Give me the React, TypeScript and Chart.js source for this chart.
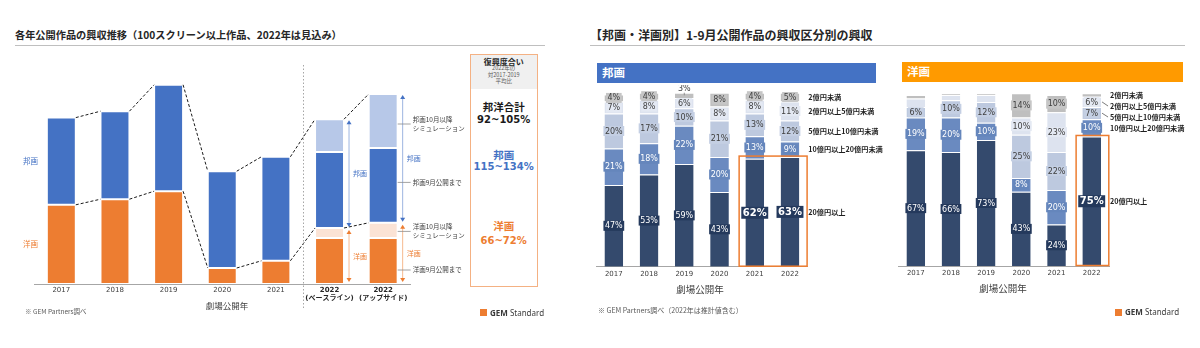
import React, { useEffect, useRef } from 'react';
import { Chart, registerables } from 'chart.js';
Chart.register(...registerables);

const JP = '"Noto Sans CJK JP", "Noto Sans", sans-serif';
const NUM = '"DejaVu Sans", "Noto Sans CJK JP", sans-serif';
const BLUE = '#4472C4';
const ORANGE = '#ED7D31';

// ---- Left chart: box office trend (億円, estimated) ----
const trendYears: (string | string[])[] = ['2017', '2018', '2019', '2020', '2021', ['2022', '(ベースライン)'], ['2022', '(アップサイド)']];
const yogaThroughSep = [990, 1060, 1160, 200, 290, 575, 575];
const yogaFromOct = [null, null, null, null, null, 125, 190];
const hogaThroughSep = [1090, 1100, 1330, 1210, 1300, 950, 935];
const hogaFromOct = [null, null, null, null, null, 410, 675];
const trendMax = 2800;

// ---- Right charts: share by box-office band (%) ----
const bandYears = ['2017', '2018', '2019', '2020', '2021', '2022'];
const bandNames = ['20億円以上', '10億円以上20億円未満', '5億円以上10億円未満', '2億円以上5億円未満', '2億円未満'];
const hoga20 = [47, 53, 59, 43, 62, 63];
const hoga10 = [21, 18, 22, 20, 13, 9];
const hoga5 = [20, 17, 10, 21, 13, 12];
const hoga2 = [7, 8, 6, 8, 8, 11];
const hogaU2 = [4, 4, 3, 8, 4, 5];
const yoga20 = [67, 66, 73, 43, 24, 75];
const yoga10 = [19, 20, 10, 8, 20, 10];
const yoga5 = [6, 10, 12, 25, 22, 7];
const yoga2 = [5, 3, 4, 10, 23, 6];
const yogaU2 = [2, 1, 1, 14, 10, 2];

const bandColors = ['#344A6D', '#6A8AC0', '#BDC9DF', '#DDE3EF', '#BFBFBF'];
const bandLabelBg = ['#24395C', '#6586BC', '#C4CFE3', '#E4E9F3', '#C6C6C6'];
const bandLabelFg = ['#FFFFFF', '#FFFFFF', '#404040', '#404040', '#404040'];

function drawArrow(ctx: CanvasRenderingContext2D, x: number, y1: number, y2: number, lineColor: string, headColor: string) {
  ctx.setLineDash([]);
  ctx.strokeStyle = lineColor;
  ctx.lineWidth = 1;
  ctx.beginPath();
  ctx.moveTo(x, y1 + 3);
  ctx.lineTo(x, y2 - 3);
  ctx.stroke();
  ctx.fillStyle = headColor;
  ctx.beginPath();
  ctx.moveTo(x, y1);
  ctx.lineTo(x - 2.5, y1 + 4);
  ctx.lineTo(x + 2.5, y1 + 4);
  ctx.closePath();
  ctx.fill();
  ctx.beginPath();
  ctx.moveTo(x, y2);
  ctx.lineTo(x - 2.5, y2 - 4);
  ctx.lineTo(x + 2.5, y2 - 4);
  ctx.closePath();
  ctx.fill();
}

const trendPlugin = {
  id: 'trendDecor',
  afterDatasetsDraw(chart: any) {
    const { ctx, chartArea } = chart;
    const ds = chart.data.datasets;
    const metas = ds.map((_: any, d: number) => chart.getDatasetMeta(d));
    const N = ds[0].data.length;
    const has = (d: number, i: number) => ds[d].data[i] != null;
    const el = (d: number, i: number) => metas[d].data[i];
    const yogaTop = (i: number) => el(has(1, i) ? 1 : 0, i).y;
    const allTop = (i: number) => el(has(3, i) ? 3 : 2, i).y;
    const left = (i: number) => el(0, i).x - el(0, i).width / 2;
    const right = (i: number) => el(0, i).x + el(0, i).width / 2;
    ctx.save();
    // dashed connectors
    ctx.strokeStyle = '#1A1A1A';
    ctx.lineWidth = 1;
    ctx.setLineDash([3, 2]);
    for (let i = 0; i < N - 1; i++) {
      for (const f of [yogaTop, allTop]) {
        ctx.beginPath();
        ctx.moveTo(right(i), f(i));
        ctx.lineTo(left(i + 1), f(i + 1));
        ctx.stroke();
      }
    }
    // separator
    const sx = Math.round((el(0, 4).x + el(0, 5).x) / 2) + 0.5;
    ctx.strokeStyle = '#A6A6A6';
    ctx.setLineDash([1.5, 2]);
    ctx.beginPath();
    ctx.moveTo(sx, chartArea.top + 5);
    ctx.lineTo(sx, chartArea.bottom + 24);
    ctx.stroke();
    // arrows
    ctx.textAlign = 'center';
    ctx.textBaseline = 'middle';
    for (const i of [N - 2, N - 1]) {
      const ax = right(i) + 5;
      drawArrow(ctx, ax, allTop(i) + 1, yogaTop(i) - 1, '#9DB5E0', BLUE);
      drawArrow(ctx, ax, yogaTop(i) + 2, chartArea.bottom - 2, '#F6B98F', ORANGE);
      ctx.font = `7px ${JP}`;
      ctx.fillStyle = BLUE;
      ctx.fillText('邦画', ax + 11, (allTop(i) + yogaTop(i)) / 2);
      ctx.fillStyle = ORANGE;
      ctx.fillText('洋画', ax + 11, (yogaTop(i) + chartArea.bottom) / 2);
    }
    // callouts on last bar: [dataset, text lines, offset from segment middle]
    const L = N - 1;
    const callouts: [number, string[], number][] = [
      [3, ['邦画10月以降', 'シミュレーション'], 3],
      [2, ['邦画9月公開まで'], -3],
      [1, ['洋画10月以降', 'シミュレーション'], 1],
      [0, ['洋画9月公開まで'], 9],
    ];
    ctx.font = `6.5px ${JP}`;
    ctx.textAlign = 'left';
    for (const [d, lines, off] of callouts) {
      const e = el(d, L);
      const cy = (e.y + e.base) / 2 + off;
      ctx.strokeStyle = '#8C8C8C';
      ctx.lineWidth = 0.8;
      ctx.setLineDash([]);
      ctx.beginPath();
      ctx.moveTo(right(L), cy);
      ctx.lineTo(right(L) + 13, cy);
      ctx.stroke();
      ctx.fillStyle = '#404040';
      lines.forEach((t, k) => ctx.fillText(t, right(L) + 15, cy + (k - (lines.length - 1) / 2) * 9));
    }
    // series labels left of first bar
    ctx.textAlign = 'center';
    ctx.font = `7.5px ${JP}`;
    const b = el(2, 0);
    ctx.fillStyle = BLUE;
    ctx.fillText('邦画', chartArea.left - 4, (b.y + b.base) / 2);
    const o = el(0, 0);
    ctx.fillStyle = ORANGE;
    ctx.fillText('洋画', chartArea.left - 4, (o.y + o.base) / 2);
    ctx.restore();
  },
};

const bandPlugin = {
  id: 'bandDecor',
  afterDatasetsDraw(chart: any, _args: any, opts: any) {
    const { ctx, chartArea } = chart;
    const ds = chart.data.datasets;
    const n = ds.length;
    const xs = chart.scales.x;
    const nCat = chart.data.labels.length;
    const cw = (xs.right - xs.left) / nCat;
    const hl: number[] = opts.highlight;
    ctx.save();
    // labels in segments
    ctx.textAlign = 'center';
    ctx.textBaseline = 'middle';
    for (let d = 0; d < n; d++) {
      const meta = chart.getDatasetMeta(d);
      ds[d].data.forEach((v: number, i: number) => {
        if (v == null || v < opts.minLabel) return;
        const e = meta.data[i];
        const h = e.base - e.y;
        let cy = (e.y + e.base) / 2;
        const big = d === 0 && hl.includes(i);
        ctx.font = big ? `bold 10px ${NUM}` : `8px ${NUM}`;
        const t = `${v}%`;
        const w = ctx.measureText(t).width;
        const bh = big ? 12 : 10;
        if (h < 6) {
          ctx.strokeStyle = '#7F7F7F';
          ctx.lineWidth = 0.8;
          ctx.beginPath();
          ctx.moveTo(e.x, e.y - 1);
          ctx.lineTo(e.x, cy);
          ctx.stroke();
          cy = e.y - 4;
          ctx.fillStyle = '#FFFFFF';
          ctx.fillRect(e.x - w / 2 - 1.5, cy - bh / 2, w + 3, bh - 1);
          ctx.fillStyle = '#404040';
          ctx.fillText(t, e.x, cy);
          return;
        }
        ctx.fillStyle = bandLabelBg[d];
        ctx.fillRect(e.x - w / 2 - 1.5, cy - bh / 2, w + 3, bh);
        ctx.fillStyle = bandLabelFg[d];
        ctx.fillText(t, e.x, cy + 0.5);
      });
    }
    // legend labels right of last bar
    const L = nCat - 1;
    let prev = -Infinity;
    ctx.font = `bold 7.2px ${JP}`;
    ctx.textAlign = 'left';
    for (let d = n - 1; d >= 0; d--) {
      const e = chart.getDatasetMeta(d).data[L];
      const c = (e.y + e.base) / 2;
      const y = Math.max(c, prev + 11);
      prev = y;
      const bx = e.x + e.width / 2;
      if (y - c > 3) {
        ctx.strokeStyle = '#595959';
        ctx.lineWidth = 0.8;
        ctx.beginPath();
        ctx.moveTo(bx + 1, c);
        ctx.lineTo(bx + 7, y);
        ctx.stroke();
      }
      ctx.fillStyle = '#1F1F1F';
      ctx.fillText(ds[d].label, bx + 9, y + 0.5);
    }
    // highlight box
    const m0 = chart.getDatasetMeta(0);
    let top = Infinity;
    hl.forEach((i) => (top = Math.min(top, m0.data[i].y)));
    const x0 = xs.getPixelForValue(hl[0]) - cw / 2 + 2;
    const x1 = xs.getPixelForValue(hl[hl.length - 1]) + cw / 2 - 0.5;
    ctx.strokeStyle = ORANGE;
    ctx.lineWidth = 1.5;
    ctx.strokeRect(x0, top - 1, x1 - x0, chartArea.bottom - top + 0.5);
    ctx.restore();
  },
};

function bandConfig(series: number[][], padding: any, highlight: number[], minLabel: number) {
  return {
    type: 'bar' as const,
    data: {
      labels: bandYears,
      datasets: bandNames.map((name, d) => ({
        label: name,
        data: series[d],
        backgroundColor: bandColors[d],
        borderColor: 'rgba(255,255,255,0.85)',
        borderWidth: { top: 1, left: 0, right: 0, bottom: 0 },
        borderSkipped: false,
        categoryPercentage: 1,
        barPercentage: 0.53,
      })),
    },
    options: {
      animation: false as const,
      responsive: false,
      layout: { padding },
      plugins: { legend: { display: false }, tooltip: { enabled: false }, bandDecor: { highlight, minLabel } },
      scales: {
        x: {
          stacked: true,
          grid: { display: false, drawTicks: false },
          border: { display: true, color: '#A6A6A6', width: 1 },
          ticks: { font: { family: NUM, size: 7, lineHeight: 1.05 }, color: '#404040', padding: 3.5, maxRotation: 0, autoSkip: false },
          afterFit: (s: any) => { s.height = 20; },
        },
        y: { stacked: true, display: false, min: 0, max: 100 },
      },
    },
    plugins: [bandPlugin],
  };
}

const T = ({ x, y, s, w = 400, c = '#262626', a = 'left', f = JP, children }: any) => (
  <div
    style={{
      position: 'absolute', left: x, top: y, fontSize: s, fontWeight: w, color: c, fontFamily: f,
      lineHeight: 1, whiteSpace: 'nowrap',
      transform: `translate(${a === 'center' ? '-50%' : '0'}, -50%)`,
    }}
  >
    {children}
  </div>
);

const Logo = ({ x, y }: any) => (
  <div style={{ position: 'absolute', left: x, top: y - 4, height: 8, display: 'flex', alignItems: 'center' }}>
    <div style={{ width: 7, height: 7, background: ORANGE, marginRight: 3 }} />
    <span style={{ fontFamily: '"Noto Sans", sans-serif', fontSize: 8, lineHeight: 1, color: '#3A3A3A', whiteSpace: 'nowrap' }}>
      <b>GEM</b> Standard
    </span>
  </div>
);

export default function App() {
  const trendRef = useRef<HTMLCanvasElement>(null);
  const hogaRef = useRef<HTMLCanvasElement>(null);
  const yogaRef = useRef<HTMLCanvasElement>(null);

  useEffect(() => {
    const seg = (label: string, data: any[], color: string) => ({
      label, data, backgroundColor: color,
      borderColor: 'rgba(255,255,255,0.55)', borderWidth: 1, borderSkipped: false,
      categoryPercentage: 1, barPercentage: 0.54,
    });
    const trend = new Chart(trendRef.current!, {
      type: 'bar',
      data: {
        labels: trendYears as any,
        datasets: [
          seg('洋画9月公開まで', yogaThroughSep, ORANGE),
          seg('洋画10月以降シミュレーション', yogaFromOct, '#FBE3D5'),
          seg('邦画9月公開まで', hogaThroughSep, BLUE),
          seg('邦画10月以降シミュレーション', hogaFromOct, '#B7C8E8'),
        ],
      },
      options: {
        animation: false,
        responsive: false,
        layout: { padding: { left: 34.5, right: 60, top: 60, bottom: 24 } },
        plugins: { legend: { display: false }, tooltip: { enabled: false } },
        scales: {
          x: {
            stacked: true,
            grid: { display: false, drawTicks: false },
            border: { display: true, color: '#A6A6A6', width: 1 },
            ticks: {
              font: (c: any) => ({ family: NUM, size: 7, lineHeight: 1.05, weight: c.index >= 5 ? 'bold' : 'normal' }),
              color: (c: any) => (c.index >= 5 ? '#262626' : '#404040'),
              padding: 3,
              maxRotation: 0,
              autoSkip: false,
            },
            afterFit: (s: any) => { s.height = 40; },
          },
          y: { stacked: true, display: false, min: 0, max: trendMax },
        },
      } as any,
      plugins: [trendPlugin],
    });
    const hoga = new Chart(hogaRef.current!, bandConfig(
      [hoga20, hoga10, hoga5, hoga2, hogaU2],
      { left: 16.2, right: 82.4, top: 7.7, bottom: 13.3 }, [4, 5], 0) as any);
    const yoga = new Chart(yogaRef.current!, bandConfig(
      [yoga20, yoga10, yoga5, yoga2, yogaU2],
      { left: 18.2, right: 90.7, top: 8.3, bottom: 14 }, [5], 6) as any);
    return () => { trend.destroy(); hoga.destroy(); yoga.destroy(); };
  }, []);

  return (
    <div style={{ position: 'fixed', left: 0, top: 0, width: 1200, height: 348, background: '#FFFFFF', overflow: 'hidden' }}>
      {/* left slide */}
      <T x={15} y={35} s={10.2} w={700}>各年公開作品の興収推移（100スクリーン以上作品、2022年は見込み）</T>
      <div style={{ position: 'absolute', left: 15, top: 45, width: 530, height: 1, background: '#BFBFBF' }} />
      <canvas ref={trendRef} width={470} height={348} style={{ position: 'absolute', left: 0, top: 0, width: 470, height: 348 }} />
      <T x={227} y={305} s={8.5} c="#404040" a="center">劇場公開年</T>
      <T x={25} y={311} s={6.5} c="#595959">※ GEM Partners調べ</T>
      <div style={{ position: 'absolute', left: 470, top: 54, width: 66, height: 231, border: '1px solid #F4B183' }}>
        <div style={{ position: 'absolute', left: 0, top: 0, width: 66, height: 34, background: '#F0F0F0' }} />
      </div>
      <T x={503.7} y={61.7} s={8} w={700} a="center">復興度合い</T>
      <T x={503.7} y={69} s={5.5} c="#595959" a="center">2022年の</T>
      <T x={503.7} y={75.7} s={5.5} c="#595959" a="center">対2017-2019</T>
      <T x={503.7} y={82.3} s={5.5} c="#595959" a="center">平均比</T>
      <T x={503.7} y={107.3} s={10.5} w={700} c="#1A1A1A" a="center">邦洋合計</T>
      <T x={503.7} y={120} s={10} w={700} c="#1A1A1A" a="center" f={NUM}>92~105%</T>
      <T x={503.7} y={155} s={10.5} w={700} c={BLUE} a="center">邦画</T>
      <T x={503.7} y={167.3} s={10} w={700} c={BLUE} a="center" f={NUM}>115~134%</T>
      <T x={503.7} y={226} s={10.5} w={700} c={ORANGE} a="center">洋画</T>
      <T x={503.7} y={240.7} s={10} w={700} c={ORANGE} a="center" f={NUM}>66~72%</T>
      <Logo x={480} y={312.7} />

      {/* right slide */}
      <T x={590} y={35} s={12} w={700}>【邦画・洋画別】1-9月公開作品の興収区分別の興収</T>
      <div style={{ position: 'absolute', left: 590, top: 45, width: 595, height: 1, background: '#BFBFBF' }} />
      <div style={{ position: 'absolute', left: 597, top: 63, width: 279, height: 20, background: BLUE }} />
      <T x={602} y={73} s={11.5} w={700} c="#FFFFFF">邦画</T>
      <div style={{ position: 'absolute', left: 902, top: 62, width: 281, height: 20, background: '#FF9A00' }} />
      <T x={907} y={72} s={11.5} w={700} c="#FFFFFF">洋画</T>
      <canvas ref={hogaRef} width={310} height={215} style={{ position: 'absolute', left: 580, top: 85, width: 310, height: 215 }} />
      <canvas ref={yogaRef} width={320} height={215} style={{ position: 'absolute', left: 880, top: 85, width: 320, height: 215 }} />
      <T x={700} y={290} s={9.5} c="#404040" a="center">劇場公開年</T>
      <T x={1003} y={289.3} s={9.5} c="#404040" a="center">劇場公開年</T>
      <T x={598} y={310} s={7} c="#595959">※ GEM Partners調べ（2022年は推計値含む）</T>
      <Logo x={1115} y={312.3} />
    </div>
  );
}
